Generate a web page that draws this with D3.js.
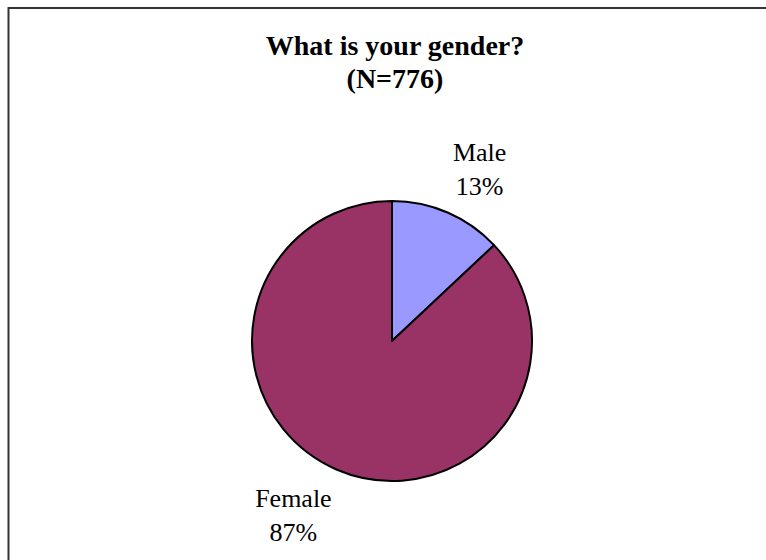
<!DOCTYPE html>
<html>
<head>
<meta charset="utf-8">
<script src="https://cdn.jsdelivr.net/npm/d3@7"></script>
<style>
  html, body { margin: 0; padding: 0; background: #fff; overflow: hidden; }
  svg { display: block; }
  text { font-family: "Times New Roman", "Liberation Serif", serif; fill: #000; }
</style>
</head>
<body>
<script>
// Survey response shares
const categories = ["Male", "Female"];
const percents = [13, 87];
const sliceColors = ["#9999FF", "#993366"];
const titleLines = ["What is your gender?", "(N=776)"];

const W = 766, H = 560;
const svg = d3.select("body").append("svg").attr("width", W).attr("height", H);

// Chart frame: only its top and left edges fall inside the canvas
svg.append("path")
  .attr("d", `M${W},8H8.5V${H}`)
  .attr("fill", "none")
  .attr("stroke", "#333").attr("stroke-width", 2);

// Title
const title = svg.append("text")
  .attr("text-anchor", "middle")
  .attr("font-weight", "bold")
  .attr("font-size", 28);
title.selectAll("tspan").data(titleLines).join("tspan")
  .attr("x", 395)
  .attr("y", (d, i) => 55 + i * 33)
  .text(d => d);

// Pie
const cx = 392, cy = 341, r = 140;
const data = categories.map((c, i) => ({ name: c, value: percents[i], color: sliceColors[i] }));
const pie = d3.pie().sort(null).value(d => d.value);
const arc = d3.arc().innerRadius(0).outerRadius(r);
const arcs = pie(data);

const g = svg.append("g").attr("transform", `translate(${cx},${cy})`);
g.selectAll("path").data(arcs).join("path")
  .attr("d", arc)
  .attr("fill", d => d.data.color)
  .attr("stroke", "#000")
  .attr("stroke-width", 2)
  .attr("stroke-linejoin", "round");

// Outside labels: category name above its percentage
const labelArc = d3.arc().innerRadius(r * 1.45).outerRadius(r * 1.45);
const labels = svg.append("g").attr("transform", `translate(${cx},${cy})`);
const labelPos = arcs.map(a => {
  const [x, y] = labelArc.centroid(a);
  return { a, x, y };
});
// nudge positions so labels sit clear of the pie edge
const offsets = [[7, 6], [-18, -20]];
labels.selectAll("text").data(labelPos).join("text")
  .attr("text-anchor", "middle")
  .attr("font-size", 26)
  .each(function (d, i) {
    const t = d3.select(this);
    const bx = d.x + offsets[i][0];
    const by = d.y + offsets[i][1];
    t.append("tspan").attr("x", bx).attr("y", by).text(d.a.data.name);
    t.append("tspan").attr("x", bx).attr("y", by + 34).text(d.a.data.value + "%");
  });
</script>
</body>
</html>
